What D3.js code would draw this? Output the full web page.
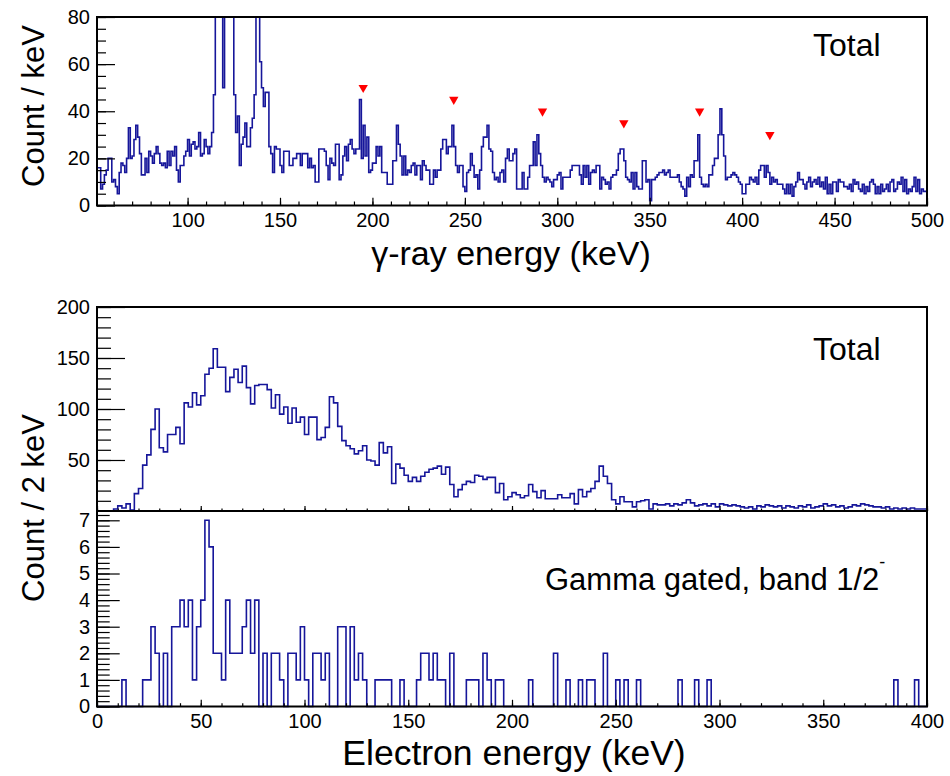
<!DOCTYPE html>
<html>
<head>
<meta charset="utf-8">
<script src="https://cdn.jsdelivr.net/npm/d3@7"></script>
<style>
  html, body { margin: 0; padding: 0; background: #fff; }
  svg { display: block; }
  text { font-family: "Liberation Sans", Arial, Helvetica, sans-serif; fill: #000; }
  .tick text { font-family: "Liberation Sans Narrow", "Liberation Sans", Arial, sans-serif; font-size: 20px; }
</style>
</head>
<body>
<svg id="chart" width="950" height="776"></svg>
<script>
// ---- gamma-ray spectrum: 1 keV bins, first bin starts at 51 keV ----
const gammaBinStart = 51;
const gammaBinWidth = 1;
const gammaCounts = [
  16,16,7,9,13,15,20,20,10,11,
  8,5,14,18,17,14,20,33,20,21,
  28,34,29,22,13,13,20,14,23,21,
  18,22,25,22,18,17,18,16,23,17,
  23,21,25,15,10,17,17,21,23,28,
  21,26,27,24,25,31,21,22,28,25,
  22,25,31,47,130,180,160,110,50,140,
  190,170,120,85,47,31,38,17,26,29,
  35,25,25,33,37,47,160,130,61,50,
  42,48,48,25,22,14,25,24,24,17,
  14,23,23,23,17,17,20,20,22,22,
  17,22,22,22,16,20,16,17,10,10,
  24,24,24,23,17,11,20,18,17,26,
  26,11,13,21,25,19,26,28,24,22,
  24,24,45,20,34,21,29,14,15,18,
  18,25,21,25,14,14,14,9,9,9,
  19,19,34,26,21,13,21,13,15,14,
  17,18,13,17,17,11,19,17,15,15,
  9,9,15,12,15,15,24,28,28,22,
  25,25,34,25,17,14,17,17,8,6,
  14,15,22,17,12,13,7,15,25,29,
  29,34,24,23,14,11,12,10,14,15,
  10,20,24,19,19,22,24,7,7,7,
  14,7,7,12,17,17,27,17,30,22,
  17,12,10,12,11,10,8,11,11,13,
  14,7,12,12,12,12,15,17,17,17,
  17,13,9,17,12,17,9,14,15,14,
  17,17,7,12,11,9,10,7,12,13,
  13,15,22,24,24,19,12,11,10,14,
  7,14,8,7,7,19,19,10,11,2,
  11,11,12,13,14,14,15,13,14,15,
  12,12,12,12,13,10,8,7,4,12,
  8,13,12,19,19,30,12,9,8,9,
  8,13,13,17,20,20,30,41,30,21,
  11,12,12,13,14,13,12,10,9,5,
  5,9,9,12,11,10,12,9,15,17,
  17,12,17,14,9,12,10,11,9,9,
  9,7,5,9,5,9,4,8,10,14,
  11,11,9,7,10,12,8,10,11,9,
  12,8,10,7,12,5,9,5,10,10,
  6,11,10,10,8,8,7,9,6,11,
  9,10,7,6,9,5,8,6,10,11,
  9,5,8,5,9,6,7,9,6,10,
  11,6,7,10,9,12,6,11,5,7,
  6,8,12,6,11,5,7,6,6
];

// transitions flagged with red markers (energy in keV, marker height in counts)
const markerEnergies = [195, 244, 292, 336, 377, 415];
const markerLevels   = [50, 45, 40, 35, 40, 30];

// ---- electron spectra: 2 keV bins from 0 to 400 keV ----
const electronBinStart = 0;
const electronBinWidth = 2;
const electronTotalCounts = [
  0,0,0,0,2,5,3,7,1,17,
  22,45,55,80,100,62,58,75,75,82,
  66,106,102,116,104,113,134,140,159,141,
  141,117,131,139,126,142,121,105,123,124,
  124,119,101,114,95,102,86,101,87,92,
  75,92,92,70,72,82,112,106,83,69,
  64,61,56,59,64,50,49,45,67,57,
  63,27,46,42,35,29,33,29,34,38,
  41,42,44,36,43,26,14,21,26,29,
  28,35,34,31,33,33,18,27,11,14,
  18,16,13,15,26,19,13,20,12,12,
  12,16,13,13,17,7,21,14,19,22,
  29,44,34,27,11,7,14,9,9,4,
  9,10,11,2,7,6,6,7,5,7,
  6,8,11,8,5,6,7,5,7,4,
  7,6,5,6,5,4,3,4,2,5,
  4,6,5,4,5,3,5,4,3,5,
  4,6,3,4,5,7,5,6,4,5,
  3,4,6,5,7,6,5,4,4,3,
  4,2,3,2,3,2,3,2,2,2
];
const electronGatedCounts = [
  0,0,0,0,0,0,1,0,0,0,
  0,1,1,3,2,0,2,0,3,3,
  4,3,4,1,3,4,7,6,2,2,
  1,4,2,2,2,3,4,2,4,0,
  2,0,2,2,1,0,2,2,1,3,
  1,0,2,2,1,2,0,0,3,3,
  0,3,1,2,1,0,0,1,1,1,
  1,0,0,1,0,0,0,1,2,2,
  1,2,1,1,0,2,0,0,0,1,
  1,1,0,2,1,0,1,1,0,0,
  0,0,0,0,1,0,0,0,0,0,
  2,0,0,1,0,0,1,0,1,1,
  0,0,2,0,0,1,0,1,0,0,
  1,0,0,0,0,0,0,0,0,0,
  1,0,0,0,1,0,0,1,0,0,
  0,0,0,0,0,0,0,0,0,0,
  0,0,0,0,0,0,0,0,0,0,
  0,0,0,0,0,0,0,0,0,0,
  0,0,0,0,0,0,0,0,0,0,
  0,0,1,0,0,0,0,1,0,0
];

// ---- axis tick labels ----
const gammaEnergyTicks = [100, 150, 200, 250, 300, 350, 400, 450, 500];
const gammaCountTicks  = [0, 20, 40, 60, 80];
const electronEnergyTicks = [0, 50, 100, 150, 200, 250, 300, 350, 400];
const totalCountTicks  = [50, 100, 150, 200];
const gatedCountTicks  = [0, 1, 2, 3, 4, 5, 6, 7];

const svg = d3.select("#chart");
const histColor = "#16169a";
const left = 97, right = 927;

// scales for the three frames
const xGamma = d3.scaleLinear().domain([51, 500]).range([left, right]);
const yGamma = d3.scaleLinear().domain([0, 80]).range([205.5, 17]);
const xElec  = d3.scaleLinear().domain([0, 400]).range([left, right]);
const yTotal = d3.scaleLinear().domain([0, 200]).range([511, 307]);
const yGated = d3.scaleLinear().domain([0, 7.35]).range([706.5, 511]);

// step outline of a histogram, like a "HIST" draw option
function histPoints(counts, start, width) {
  const pts = counts.map((c, i) => [start + i * width, c]);
  pts.push([start + counts.length * width, counts[counts.length - 1]]);
  return pts;
}
function drawHist(g, counts, start, width, x, y, clipId) {
  const line = d3.line().x(d => x(d[0])).y(d => y(d[1])).curve(d3.curveStepAfter);
  g.append("path")
    .attr("d", line(histPoints(counts, start, width)))
    .attr("fill", "none")
    .attr("stroke", histColor)
    .attr("stroke-width", 1.6)
    .attr("clip-path", clipId ? `url(#${clipId})` : null);
}

// inward-pointing ticks: minor set without labels, then labelled major set
function drawAxis(g, axisFn, scale, pos, majors, minors, majorLen, minorLen, pad, showLabels) {
  const minorAxis = axisFn(scale).tickValues(minors).tickSize(-minorLen).tickFormat("");
  const majorAxis = axisFn(scale).tickValues(majors).tickSize(-majorLen).tickPadding(pad)
    .tickFormat(showLabels ? d3.format("d") : "");
  [minorAxis, majorAxis].forEach(ax => {
    const a = g.append("g").attr("transform", pos).call(ax);
    a.select(".domain").remove();
    a.selectAll("line").attr("stroke", "#000").attr("stroke-width", 1.2);
  });
}

function frame(g, x0, y0, x1, y1) {
  g.append("rect").attr("x", x0).attr("y", y0).attr("width", x1 - x0).attr("height", y1 - y0)
    .attr("fill", "none").attr("stroke", "#000").attr("stroke-width", 2);
}

const defs = svg.append("defs");
defs.append("clipPath").attr("id", "clipGamma").append("rect")
  .attr("x", left).attr("y", 17).attr("width", right - left).attr("height", 205.5 - 17);

// ===== gamma-ray panel =====
const gTop = svg.append("g");
drawHist(gTop, gammaCounts, gammaBinStart, gammaBinWidth, xGamma, yGamma, "clipGamma");
drawAxis(gTop, d3.axisLeft, yGamma, `translate(${left},0)`,
  gammaCountTicks, d3.range(0, 80.1, 5), 18, 9, 7, true);
drawAxis(gTop, d3.axisBottom, xGamma, `translate(0,205.5)`,
  gammaEnergyTicks, d3.range(60, 500.1, 10), 7.7, 4, 7, true);
frame(gTop, left, 17, right, 205.5);

// red downward triangles above the flagged peaks
gTop.selectAll("path.marker")
  .data(markerEnergies.map((e, i) => [e, markerLevels[i]]))
  .join("path")
  .attr("class", "marker")
  .attr("transform", d => `translate(${xGamma(d[0])},${yGamma(d[1])}) rotate(180)`)
  .attr("d", d3.symbol(d3.symbolTriangle, 38))
  .attr("fill", "#ff0000");

gTop.append("text").attr("x", 813).attr("y", 56).attr("font-size", 32).text("Total");
gTop.append("text")
  .attr("transform", "translate(44,106) rotate(-90)")
  .attr("text-anchor", "middle").attr("font-size", 31).text("Count / keV");
gTop.append("text").attr("x", 511).attr("y", 265)
  .attr("text-anchor", "middle").attr("font-size", 34).text("\u03b3-ray energy (keV)");

// ===== electron panels =====
const gMid = svg.append("g");
drawHist(gMid, electronTotalCounts, electronBinStart, electronBinWidth, xElec, yTotal, null);
drawAxis(gMid, d3.axisLeft, yTotal, `translate(${left},0)`,
  totalCountTicks, d3.range(10, 200.1, 10), 28, 14, 7, true);
drawAxis(gMid, d3.axisBottom, xElec, `translate(0,511)`,
  electronEnergyTicks, d3.range(0, 400.1, 10), 5, 2.5, 7, false);
frame(gMid, left, 307, right, 511);
gMid.append("text").attr("x", 813).attr("y", 360).attr("font-size", 32).text("Total");

const gBot = svg.append("g");
drawHist(gBot, electronGatedCounts, electronBinStart, electronBinWidth, xElec, yGated, null);
drawAxis(gBot, d3.axisLeft, yGated, `translate(${left},0)`,
  gatedCountTicks, d3.range(0, 7.35, 0.2), 22.7, 12.7, 7, true);
drawAxis(gBot, d3.axisBottom, xElec, `translate(0,706.5)`,
  electronEnergyTicks, d3.range(0, 400.1, 10), 6.7, 3.3, 7, true);
frame(gBot, left, 511, right, 706.5);

const gated = gBot.append("text").attr("x", 545).attr("y", 590).attr("font-size", 31);
gated.append("tspan").text("Gamma gated, band 1/2");
gated.append("tspan").attr("dy", -22).attr("font-size", 18).text("-");

svg.append("text")
  .attr("transform", "translate(44,508) rotate(-90)")
  .attr("text-anchor", "middle").attr("font-size", 31).text("Count / 2 keV");
svg.append("text").attr("x", 514).attr("y", 765)
  .attr("text-anchor", "middle").attr("font-size", 35.5).text("Electron energy (keV)");
</script>
</body>
</html>
